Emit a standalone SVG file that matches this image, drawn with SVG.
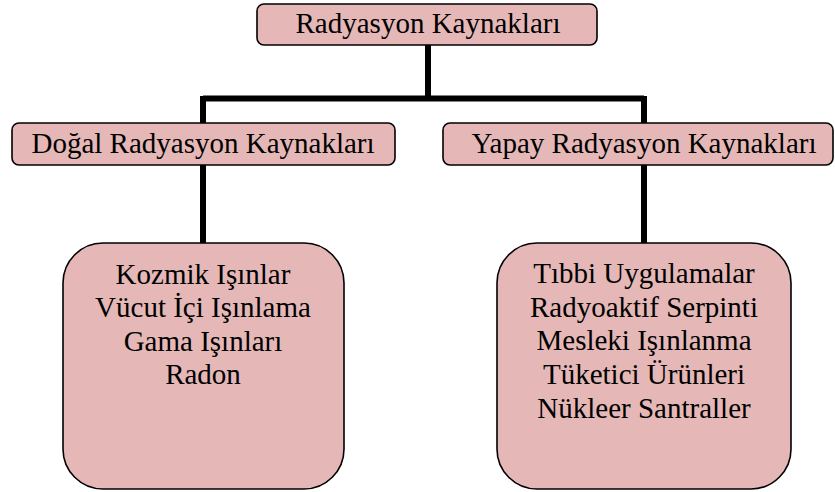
<svg xmlns="http://www.w3.org/2000/svg" width="835" height="492" viewBox="0 0 835 492">
<style>
.box{fill:#e5b8b7;stroke:#000;stroke-width:1.6}
.t{font-size:29px;fill:#000;text-anchor:middle}
.c{stroke:#000;stroke-width:6;fill:none}
</style>
<rect width="835" height="492" fill="#fff"/>
<g id="connectors">
<path class="c" d="M428 45 V98.5"/>
<path class="c" d="M203 98.5 H644"/>
<path class="c" d="M203 96 V123"/>
<path class="c" d="M644 96 V123"/>
<path class="c" d="M203 165 V244"/>
<path class="c" d="M644 165 V244"/>
</g>
<g font-family="Liberation Serif, DejaVu Serif, serif">
<g id="root">
<rect class="box" x="257" y="4" width="340" height="41" rx="7"/>
<text class="t" x="428" y="33">Radyasyon Kaynakları</text>
</g>
<g id="dogal">
<rect class="box" x="12" y="123" width="383" height="42" rx="7"/>
<text class="t" x="203" y="153">Doğal Radyasyon Kaynakları</text>
</g>
<g id="yapay">
<rect class="box" x="443" y="123" width="390" height="42" rx="7"/>
<text class="t" x="644" y="153">Yapay Radyasyon Kaynakları</text>
</g>
<g id="dogal-list">
<rect class="box" x="63" y="243" width="281" height="246" rx="40"/>
<text class="t" x="203" y="284">Kozmik Işınlar</text>
<text class="t" x="203" y="317">Vücut İçi Işınlama</text>
<text class="t" x="203" y="351">Gama Işınları</text>
<text class="t" x="203" y="384">Radon</text>
</g>
<g id="yapay-list">
<rect class="box" x="497" y="243" width="294" height="246" rx="40"/>
<text class="t" x="644" y="283">Tıbbi Uygulamalar</text>
<text class="t" x="644" y="317">Radyoaktif Serpinti</text>
<text class="t" x="644" y="350">Mesleki Işınlanma</text>
<text class="t" x="644" y="384">Tüketici Ürünleri</text>
<text class="t" x="644" y="418">Nükleer Santraller</text>
</g>
</g>
</svg>
